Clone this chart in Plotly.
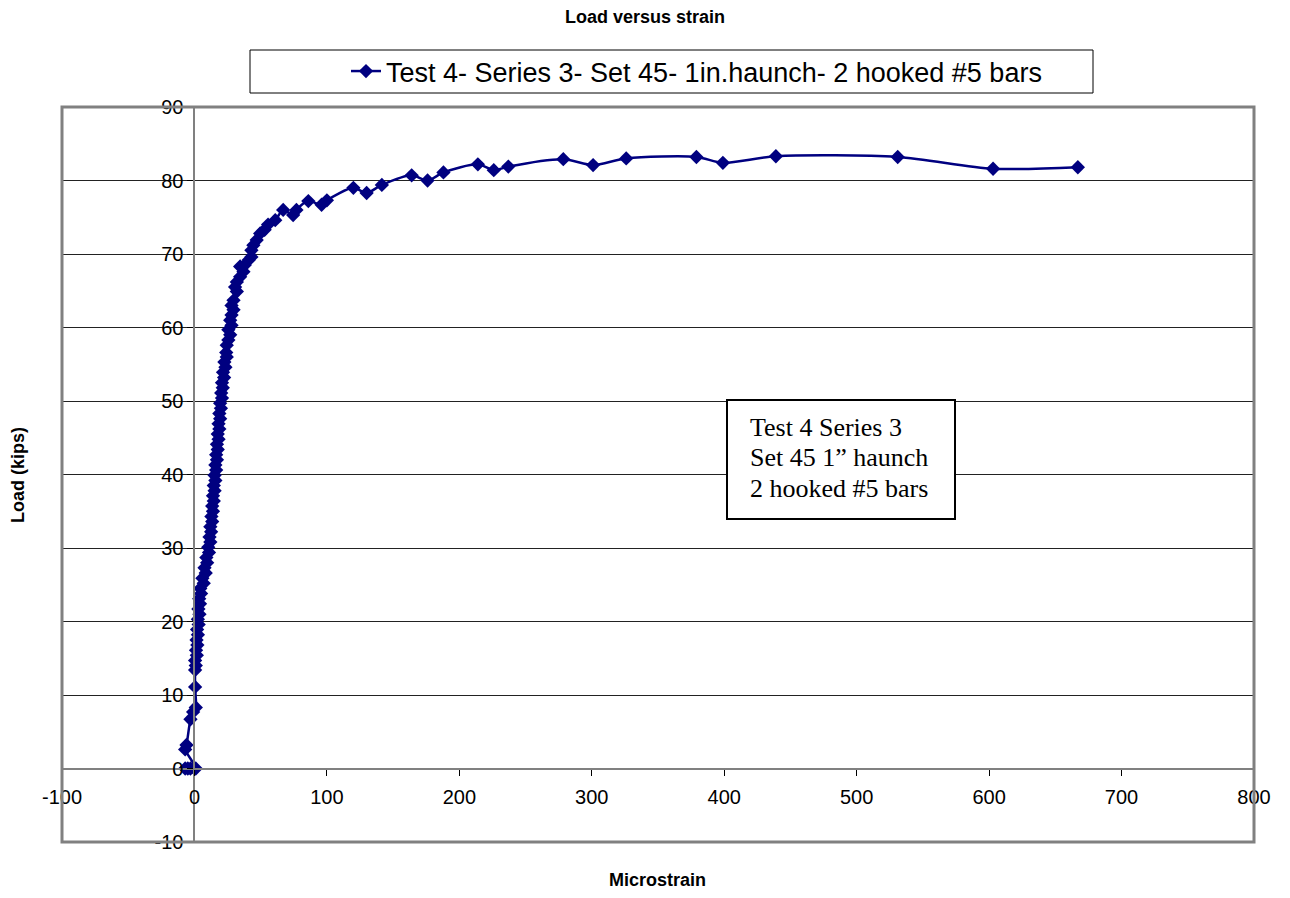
import plotly.graph_objects as go

# ---- data ----
strain = [
    0, -3, -7, -5, 1, -7, -6, -3, -1, 1, 0.5, 0.5,
    1.0, 0.5, 1.8, 1.2, 2.2, 1.6, 2.6, 2.0, 3.2, 2.6, 3.8, 3.0, 4.2, 3.6, 5.0, 4.4,
    7.0, 6.0, 8.5, 7.6, 9.6, 9.0, 11.0, 10.4, 12.0, 11.4, 12.6, 12.0, 13.4, 12.8,
    14.0, 13.4, 14.6, 14.0, 15.2, 14.6, 15.8, 15.2, 16.4, 15.8, 17.0, 16.4, 17.6,
    17.0, 18.2, 17.6, 18.8, 18.2, 19.4, 18.8, 20.0, 19.4, 20.8, 20.2, 21.4, 20.8,
    22.4, 21.6, 23.4, 22.6, 24.4, 24.0, 24.4,
    25.6, 27, 25.6, 28, 27, 28, 29.5, 28, 29.5, 32, 30.7, 32, 34.5, 37, 34.5, 38,
    41, 43, 43, 44.5, 47, 49.6, 53, 55.6, 61, 67, 74.5, 77, 86, 96, 100,
    120, 130, 141.5, 164, 176, 188, 214, 226, 237, 278.5, 301, 326, 379, 399,
    439, 531, 603, 667,
]
load = [
    0, 0, 0, 0, 0, 2.6, 3.2, 6.7, 7.7, 8.3, 11.1, 13.4,
    14.0, 14.7, 15.4, 16.1, 16.8, 17.5, 18.2, 18.9, 19.6, 20.3, 21.0, 21.7, 22.4,
    23.1, 23.8, 24.5, 25.2, 25.9, 26.6, 27.3, 28.0, 28.7, 29.4, 30.1, 30.8, 31.5,
    32.2, 32.9, 33.6, 34.3, 35.0, 35.7, 36.4, 37.1, 37.8, 38.5, 39.2, 39.9, 40.6,
    41.3, 42.0, 42.7, 43.4, 44.1, 44.8, 45.5, 46.2, 46.9, 47.6, 48.3, 49.0, 49.7,
    50.4, 51.1, 51.8, 52.5, 53.2, 53.9, 54.6, 55.3, 56.0, 56.6, 57.6,
    58.3, 59.0, 59.7, 60.3, 61.0, 61.7, 62.4, 63.0, 63.7, 64.9, 65.5, 66.2, 66.9,
    67.6, 68.3, 68.5, 69.2, 69.6, 70.5, 71.2, 71.9, 72.8, 73.3, 74.0, 74.6, 76.0,
    75.3, 76.0, 77.2, 76.7, 77.3,
    79.0, 78.3, 79.4, 80.7, 80.0, 81.1, 82.2, 81.4, 81.9, 82.9, 82.1, 83.0, 83.2,
    82.4, 83.3, 83.2, 81.6, 81.8,
]
x_tickvals = [-100, 0, 100, 200, 300, 400, 500, 600, 700, 800]
x_ticktext = ["-100", "0", "100", "200", "300", "400", "500", "600", "700", "800"]
y_tickvals = [-10, 0, 10, 20, 30, 40, 50, 60, 70, 80, 90]
y_ticktext = ["-10", "0", "10", "20", "30", "40", "50", "60", "70", "80", "90"]
series_name = "Test 4- Series 3- Set 45- 1in.haunch- 2 hooked #5 bars"
note_lines = ["Test 4 Series 3", "Set 45 1\u201d haunch", "2 hooked #5 bars"]
x_range = [-100, 800]
y_range = [-10, 90]

NAVY = "#000080"
GRAY = "#808080"
ARIAL = "Arial, Liberation Sans, sans-serif"


def px_x(p):
    return (p - 62) / 1192


def px_y(p):
    return (842 - p) / 735


fig = go.Figure()
fig.add_trace(go.Scatter(
    x=strain, y=load, mode="lines+markers", name=series_name,
    line=dict(color=NAVY, width=2.5, shape="spline", smoothing=0.8),
    marker=dict(symbol="diamond", size=11, color=NAVY),
))

fig.update_layout(
    width=1290, height=898,
    margin=dict(l=62, r=36, t=107, b=56),
    paper_bgcolor="white", plot_bgcolor="white",
    font=dict(family=ARIAL, color="black"),
    title=dict(text="<b>Load versus strain</b>", x=0.5, xref="container",
               y=1 - 17 / 898, yref="container", yanchor="middle",
               font=dict(size=18, family=ARIAL)),
    showlegend=True,
    legend=dict(orientation="h", x=px_x(346), xanchor="left",
                y=px_y(71.5), yanchor="middle",
                borderwidth=0, bgcolor="rgba(0,0,0,0)",
                font=dict(size=27, family=ARIAL)),
    xaxis=dict(range=x_range, tickvals=x_tickvals, ticktext=x_ticktext,
               showgrid=False, zeroline=False,
               showline=True, linecolor=GRAY, linewidth=2,
               anchor="free", position=(0 - y_range[0]) / (y_range[1] - y_range[0]),
               ticks="outside", ticklen=6, tickcolor="black",
               ticklabelstandoff=4, tickfont=dict(size=20)),
    yaxis=dict(range=y_range, tickvals=y_tickvals, ticktext=y_ticktext,
               showgrid=True, gridcolor="#222222", gridwidth=1,
               zeroline=False, showline=True, linecolor=GRAY, linewidth=2,
               anchor="free", position=(0 - x_range[0]) / (x_range[1] - x_range[0]),
               ticks="outside", ticklen=6, tickcolor="black",
               tickfont=dict(size=20)),
)

# plot-area border
fig.add_shape(type="rect", xref="paper", yref="paper", x0=0, x1=1, y0=0, y1=1,
              line=dict(color=GRAY, width=3), layer="above")
# legend frame
fig.add_shape(type="rect", xref="paper", yref="paper",
              x0=px_x(250), x1=px_x(1093), y0=px_y(93), y1=px_y(50),
              line=dict(color="black", width=1), fillcolor="white", layer="below")
# note box
fig.add_shape(type="rect", xref="paper", yref="paper",
              x0=px_x(727), x1=px_x(955), y0=px_y(519), y1=px_y(400),
              line=dict(color="black", width=2), fillcolor="white", layer="above")
for txt, py in zip(note_lines, [427, 457, 488]):
    fig.add_annotation(text=txt, xref="paper", yref="paper",
                       x=px_x(748), y=px_y(py),
                       xanchor="left", yanchor="middle", showarrow=False,
                       font=dict(size=26, family="Liberation Serif, Times New Roman, serif",
                                 color="black"))
# axis titles
fig.add_annotation(text="<b>Load (kips)</b>", xref="paper", yref="paper",
                   x=px_x(18), y=px_y(475), textangle=-90,
                   xanchor="center", yanchor="middle", showarrow=False,
                   font=dict(size=18))
fig.add_annotation(text="<b>Microstrain</b>", xref="paper", yref="paper",
                   x=px_x(657), y=px_y(880),
                   xanchor="center", yanchor="middle", showarrow=False,
                   font=dict(size=18))

fig.write_html("out.html")
